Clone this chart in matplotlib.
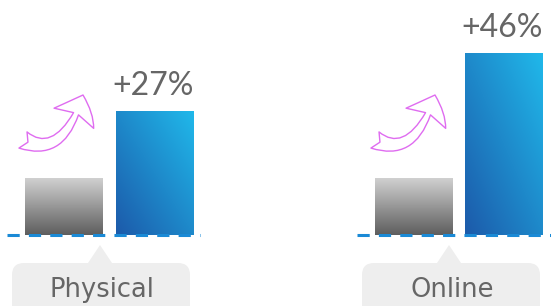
import numpy as np
import matplotlib
matplotlib.use("Agg")
import matplotlib.pyplot as plt
from matplotlib.colors import LinearSegmentedColormap
from matplotlib.patches import FancyArrowPatch, FancyBboxPatch, Polygon
from matplotlib.path import Path

# values (pixel heights above the baseline)
channels = ["Physical", "Online"]
before = [57, 57]
after = [124, 182]
growth = ["+27%", "+46%"]

# layout in pixels
x_before = [64, 413.5]
x_after = [155, 504]
bar_w = 78

gray_cmap = LinearSegmentedColormap.from_list("g", ["#5e5e5e", "#d0d0d0"])
blue_cmap = LinearSegmentedColormap.from_list("b", ["#1c5aaa", "#20b8ea"])


def fill_gradient(ax, bar, cmap, diagonal=False):
    x, y = bar.get_x(), bar.get_y()
    w, h = bar.get_width(), bar.get_height()
    u, v = np.meshgrid(np.linspace(0, 1, 100), np.linspace(0, 1, 100))
    t = (u + v) / 2 if diagonal else v
    im = ax.imshow(t, cmap=cmap, origin="lower", aspect="auto",
                   extent=[x, x + w, y, y + h], zorder=2)
    im.set_clip_path(bar)
    bar.set_facecolor("none")


def main():
    fig = plt.figure(figsize=(5.51, 3.06), dpi=100)
    ax = fig.add_axes([0, 0, 1, 1])
    ax.set_xlim(0, 551)
    ax.set_ylim(-71, 235)
    ax.axis("off")

    bars_b = ax.bar(x_before, before, width=bar_w, zorder=2)
    bars_a = ax.bar(x_after, after, width=bar_w, zorder=2)
    for b in bars_b:
        fill_gradient(ax, b, gray_cmap)
    for b in bars_a:
        fill_gradient(ax, b, blue_cmap, diagonal=True)

    for xa, val, txt in zip(x_after, after, growth):
        ax.text(xa - 2, val + 16, txt, ha="center", va="baseline",
                fontsize=23, color="#666666", family="Lato")

    # dashed baselines
    for x0, x1 in [(7, 200), (357, 551)]:
        ax.plot([x0, x1], [0, 0], color="#1a8ad6", lw=2.2,
                linestyle=(0, (4, 3)), zorder=3)

    # curved arrows (quadratic path, control point below the chord)
    for dx in [0, 352]:
        curve = Path([(23 + dx, 95), (63 + dx, 75), (83 + dx, 140)],
                     [Path.MOVETO, Path.CURVE3, Path.CURVE3])
        arr = FancyArrowPatch(path=curve,
                              arrowstyle="fancy,head_length=18,head_width=32,tail_width=13",
                              mutation_scale=1, facecolor="white",
                              edgecolor="#df6cf0", lw=1.0, zorder=4)
        ax.add_patch(arr)

    # label boxes with notch
    for name, bx, tip in zip(channels, [12, 362], [100, 449]):
        box = FancyBboxPatch((bx, -90), 178, 62,
                             boxstyle="round,pad=0,rounding_size=12",
                             facecolor="#eeeeee", edgecolor="none", zorder=1)
        ax.add_patch(box)
        notch = Polygon([[tip - 12, -28], [tip, -10], [tip + 12, -28]],
                        closed=True, facecolor="#eeeeee", edgecolor="none",
                        zorder=1)
        ax.add_patch(notch)
        ax.text(bx + 90, -62, name, ha="center", va="baseline",
                fontsize=18.5, color="#666666", family="DejaVu Sans")

    fig.savefig("out.png", dpi=100)


if __name__ == "__main__":
    main()
